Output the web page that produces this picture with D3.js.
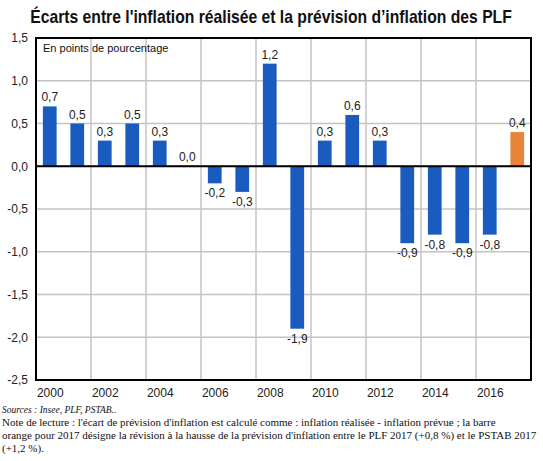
<!DOCTYPE html>
<html><head><meta charset="utf-8">
<script src="https://cdn.jsdelivr.net/npm/d3@7"></script>
<style>
body{margin:0;background:#fff;}
svg{display:block;}
</style></head>
<body>
<script>
const years = [2000,2001,2002,2003,2004,2005,2006,2007,2008,2009,2010,2011,2012,2013,2014,2015,2016,2017];
const values = [0.7,0.5,0.3,0.5,0.3,0.0,-0.2,-0.3,1.2,-1.9,0.3,0.6,0.3,-0.9,-0.8,-0.9,-0.8,0.4];
const highlightYear = 2017;
const yTicks = [1.5,1.0,0.5,0.0,-0.5,-1.0,-1.5,-2.0,-2.5];
const xTickYears = [2000,2002,2004,2006,2008,2010,2012,2014,2016];
const title = "Écarts entre l'inflation réalisée et la prévision d’inflation des PLF";
const unitLabel = "En points de pourcentage";
const sourceText = "Sources : Insee, PLF, PSTAB..";
const noteLines = [
  "Note de lecture : l'écart de prévision d'inflation est calculé comme : inflation réalisée - inflation prévue ; la barre",
  "orange pour 2017 désigne la révision à la hausse de la prévision d'inflation entre le PLF 2017 (+0,8 %) et le PSTAB 2017",
  "(+1,2 %)."
];

const W = 543, H = 461;
const m = {left:36, right:12, top:38, bottom:81};
const svg = d3.select("body").append("svg").attr("width",W).attr("height",H);
const fmt = v => d3.format(".1f")(v).replace(".", ",").replace("−","-");

const x = d3.scaleBand().domain(years).range([m.left, W-m.right]).paddingInner(0.5).paddingOuter(0.25);
const xb = d3.scaleLinear().domain([2000, 2018]).range([m.left, W-m.right]);
const y = d3.scaleLinear().domain([-2.5,1.5]).range([H-m.bottom, m.top]);

// Title (horizontally condensed via transform)
const titleG = svg.append("g");
const tt = titleG.append("text").attr("x", 0).attr("y", 0).attr("text-anchor","middle")
  .attr("font-family","'Liberation Sans', Arial, sans-serif")
  .attr("font-weight","bold").attr("font-size",18).attr("fill","#111")
  .text(title);
const natW = tt.node().getComputedTextLength();
const sx = Math.min(1, 482 / natW);
titleG.attr("transform", `translate(271,23) scale(${sx},1)`);

// grid horizontal
const g = svg.append("g");
g.selectAll("line.h").data(yTicks).join("line")
  .attr("x1", m.left).attr("x2", W-m.right)
  .attr("y1", d=>y(d)).attr("y2", d=>y(d))
  .attr("stroke","#c4c4c4").attr("stroke-width",1.5);
// grid vertical at even-year boundaries
const vb = [2002,2004,2006,2008,2010,2012,2014,2016];
g.selectAll("line.v").data(vb).join("line")
  .attr("x1", d=>xb(d)).attr("x2", d=>xb(d))
  .attr("y1", m.top).attr("y2", H-m.bottom)
  .attr("stroke","#c4c4c4").attr("stroke-width",1.5);

// y axis labels
const yAxis = d3.axisLeft(y).tickValues(yTicks).tickSize(0).tickPadding(8).tickFormat(fmt);
const ya = svg.append("g").attr("transform",`translate(${m.left},0)`).call(yAxis);
ya.select(".domain").remove();
ya.selectAll("text").attr("font-family","'Liberation Sans', Arial, sans-serif").attr("font-size",12).attr("fill","#222");

// x axis labels
const xAxis = d3.axisBottom(xb).tickValues(xTickYears.map(d=>d+0.5)).tickSize(0).tickPadding(8).tickFormat(d=>String(Math.round(d-0.5)));
const xa = svg.append("g").attr("transform",`translate(0,${H-m.bottom})`).call(xAxis);
xa.select(".domain").remove();
xa.selectAll("text").attr("font-family","'Liberation Sans', Arial, sans-serif").attr("font-size",12).attr("fill","#222");

// bars
const data = years.map((yr,i)=>({year:yr, v:values[i]}));
svg.selectAll("rect.bar").data(data).join("rect")
  .attr("x", d=>x(d.year)).attr("width", x.bandwidth())
  .attr("y", d=>y(Math.max(0,d.v))).attr("height", d=>Math.abs(y(d.v)-y(0)))
  .attr("fill", d=>d.year===highlightYear ? "#e8843a" : "#1a5bbf");

// value labels
svg.selectAll("text.val").data(data).join("text")
  .attr("x", d=>x(d.year)+x.bandwidth()/2)
  .attr("y", d=> d.v>=0 ? y(d.v)-5 : y(d.v)+14)
  .attr("text-anchor","middle")
  .attr("font-family","'Liberation Sans', Arial, sans-serif").attr("font-size",12).attr("fill","#222")
  .text(d=>fmt(d.v));

// zero line
svg.append("line").attr("x1",m.left).attr("x2",W-m.right).attr("y1",y(0)).attr("y2",y(0))
  .attr("stroke","#000").attr("stroke-width",2);
// frame
svg.append("rect").attr("x",m.left).attr("y",m.top).attr("width",W-m.right-m.left).attr("height",H-m.bottom-m.top)
  .attr("fill","none").attr("stroke","#000").attr("stroke-width",2);

// unit label
svg.append("text").attr("x",43).attr("y",52)
  .attr("font-family","'Liberation Sans', Arial, sans-serif").attr("font-size",11).attr("fill","#111")
  .text(unitLabel);

// footnotes
svg.append("text").attr("x",2).attr("y",413)
  .attr("font-family","'Liberation Serif', 'Times New Roman', serif").attr("font-size",9.5).attr("font-style","italic").attr("fill","#111")
  .text(sourceText);
svg.selectAll("text.note").data(noteLines).join("text")
  .attr("x",2).attr("y",(d,i)=>426+i*13)
  .attr("font-family","'Liberation Serif', 'Times New Roman', serif").attr("font-size",11).attr("fill","#111")
  .text(d=>d);
</script>
</body></html>
